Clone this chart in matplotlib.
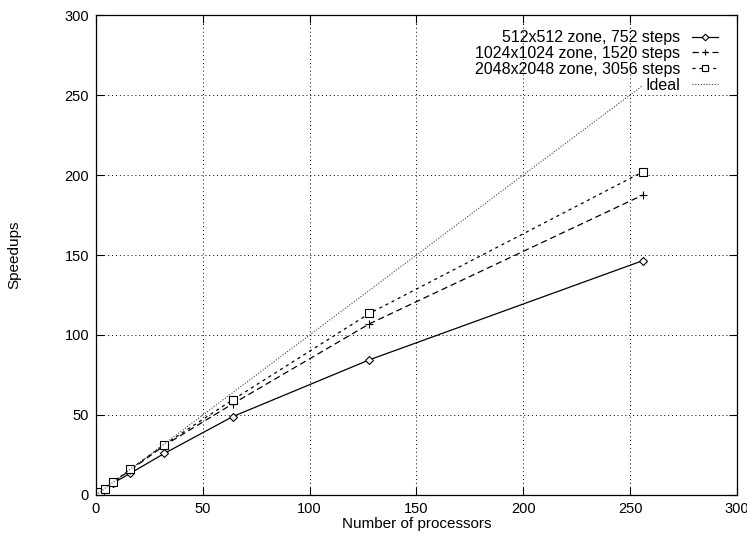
import matplotlib
matplotlib.use('Agg')
import matplotlib.pyplot as plt

plt.rcParams['font.family'] = ['Liberation Sans', 'DejaVu Sans']

procs = [1, 2, 4, 8, 16, 32, 64, 128, 256]
speed_512 = [1, 2, 3.8, 7.5, 13.5, 26, 49, 84.5, 146.5]
speed_1024 = [1, 2, 4, 8, 15.5, 31, 57, 107, 187.5]
speed_2048 = [1, 2, 4, 8, 16, 31.5, 59.5, 113.5, 202]
ideal = procs

labels = ['512x512 zone, 752 steps', '1024x1024 zone, 1520 steps',
          '2048x2048 zone, 3056 steps', 'Ideal']

fig = plt.figure(figsize=(7.47, 5.36), dpi=100)
ax = fig.add_axes([0.1285, 0.0765, 0.858, 0.8955])

ax.plot(procs, speed_512, color='black', lw=0.9, ls='-', marker='D',
        ms=4.5, mfc='white', mew=0.8, label=labels[0])
ax.plot(procs, speed_1024, color='black', lw=0.9, ls=(0, (5, 3)), marker='+',
        ms=6, mew=0.8, label=labels[1])
ax.plot(procs, speed_2048, color='black', lw=0.9, ls=(0, (2.5, 3)), marker='s',
        ms=6, mfc='white', mew=0.8, label=labels[2])
ax.plot(procs, ideal, color='#444444', lw=0.8, ls=(0, (1, 1.5)), label=labels[3])

ax.set_xlim(0, 300)
ax.set_ylim(0, 300)
ax.set_xticks(range(0, 301, 50))
ax.set_yticks(range(0, 301, 50))
ax.grid(True, color='black', lw=0.7, ls=(0, (1, 3)))
ax.tick_params(direction='in', top=True, right=True, labelsize=10.5, length=6, pad=5)
for s in ax.spines.values():
    s.set_linewidth(0.9)

ax.set_xlabel('Number of processors', fontsize=11, labelpad=1)
ax.set_ylabel('Speedups', fontsize=11, labelpad=31)

leg = ax.legend(loc='upper right', frameon=False, markerfirst=False, fontsize=11.5,
                handlelength=1.6, handletextpad=0.75, labelspacing=0.05,
                markerscale=0.75, borderaxespad=0.4, bbox_to_anchor=(0.99, 0.995))

fig.savefig('out.png', dpi=100)
